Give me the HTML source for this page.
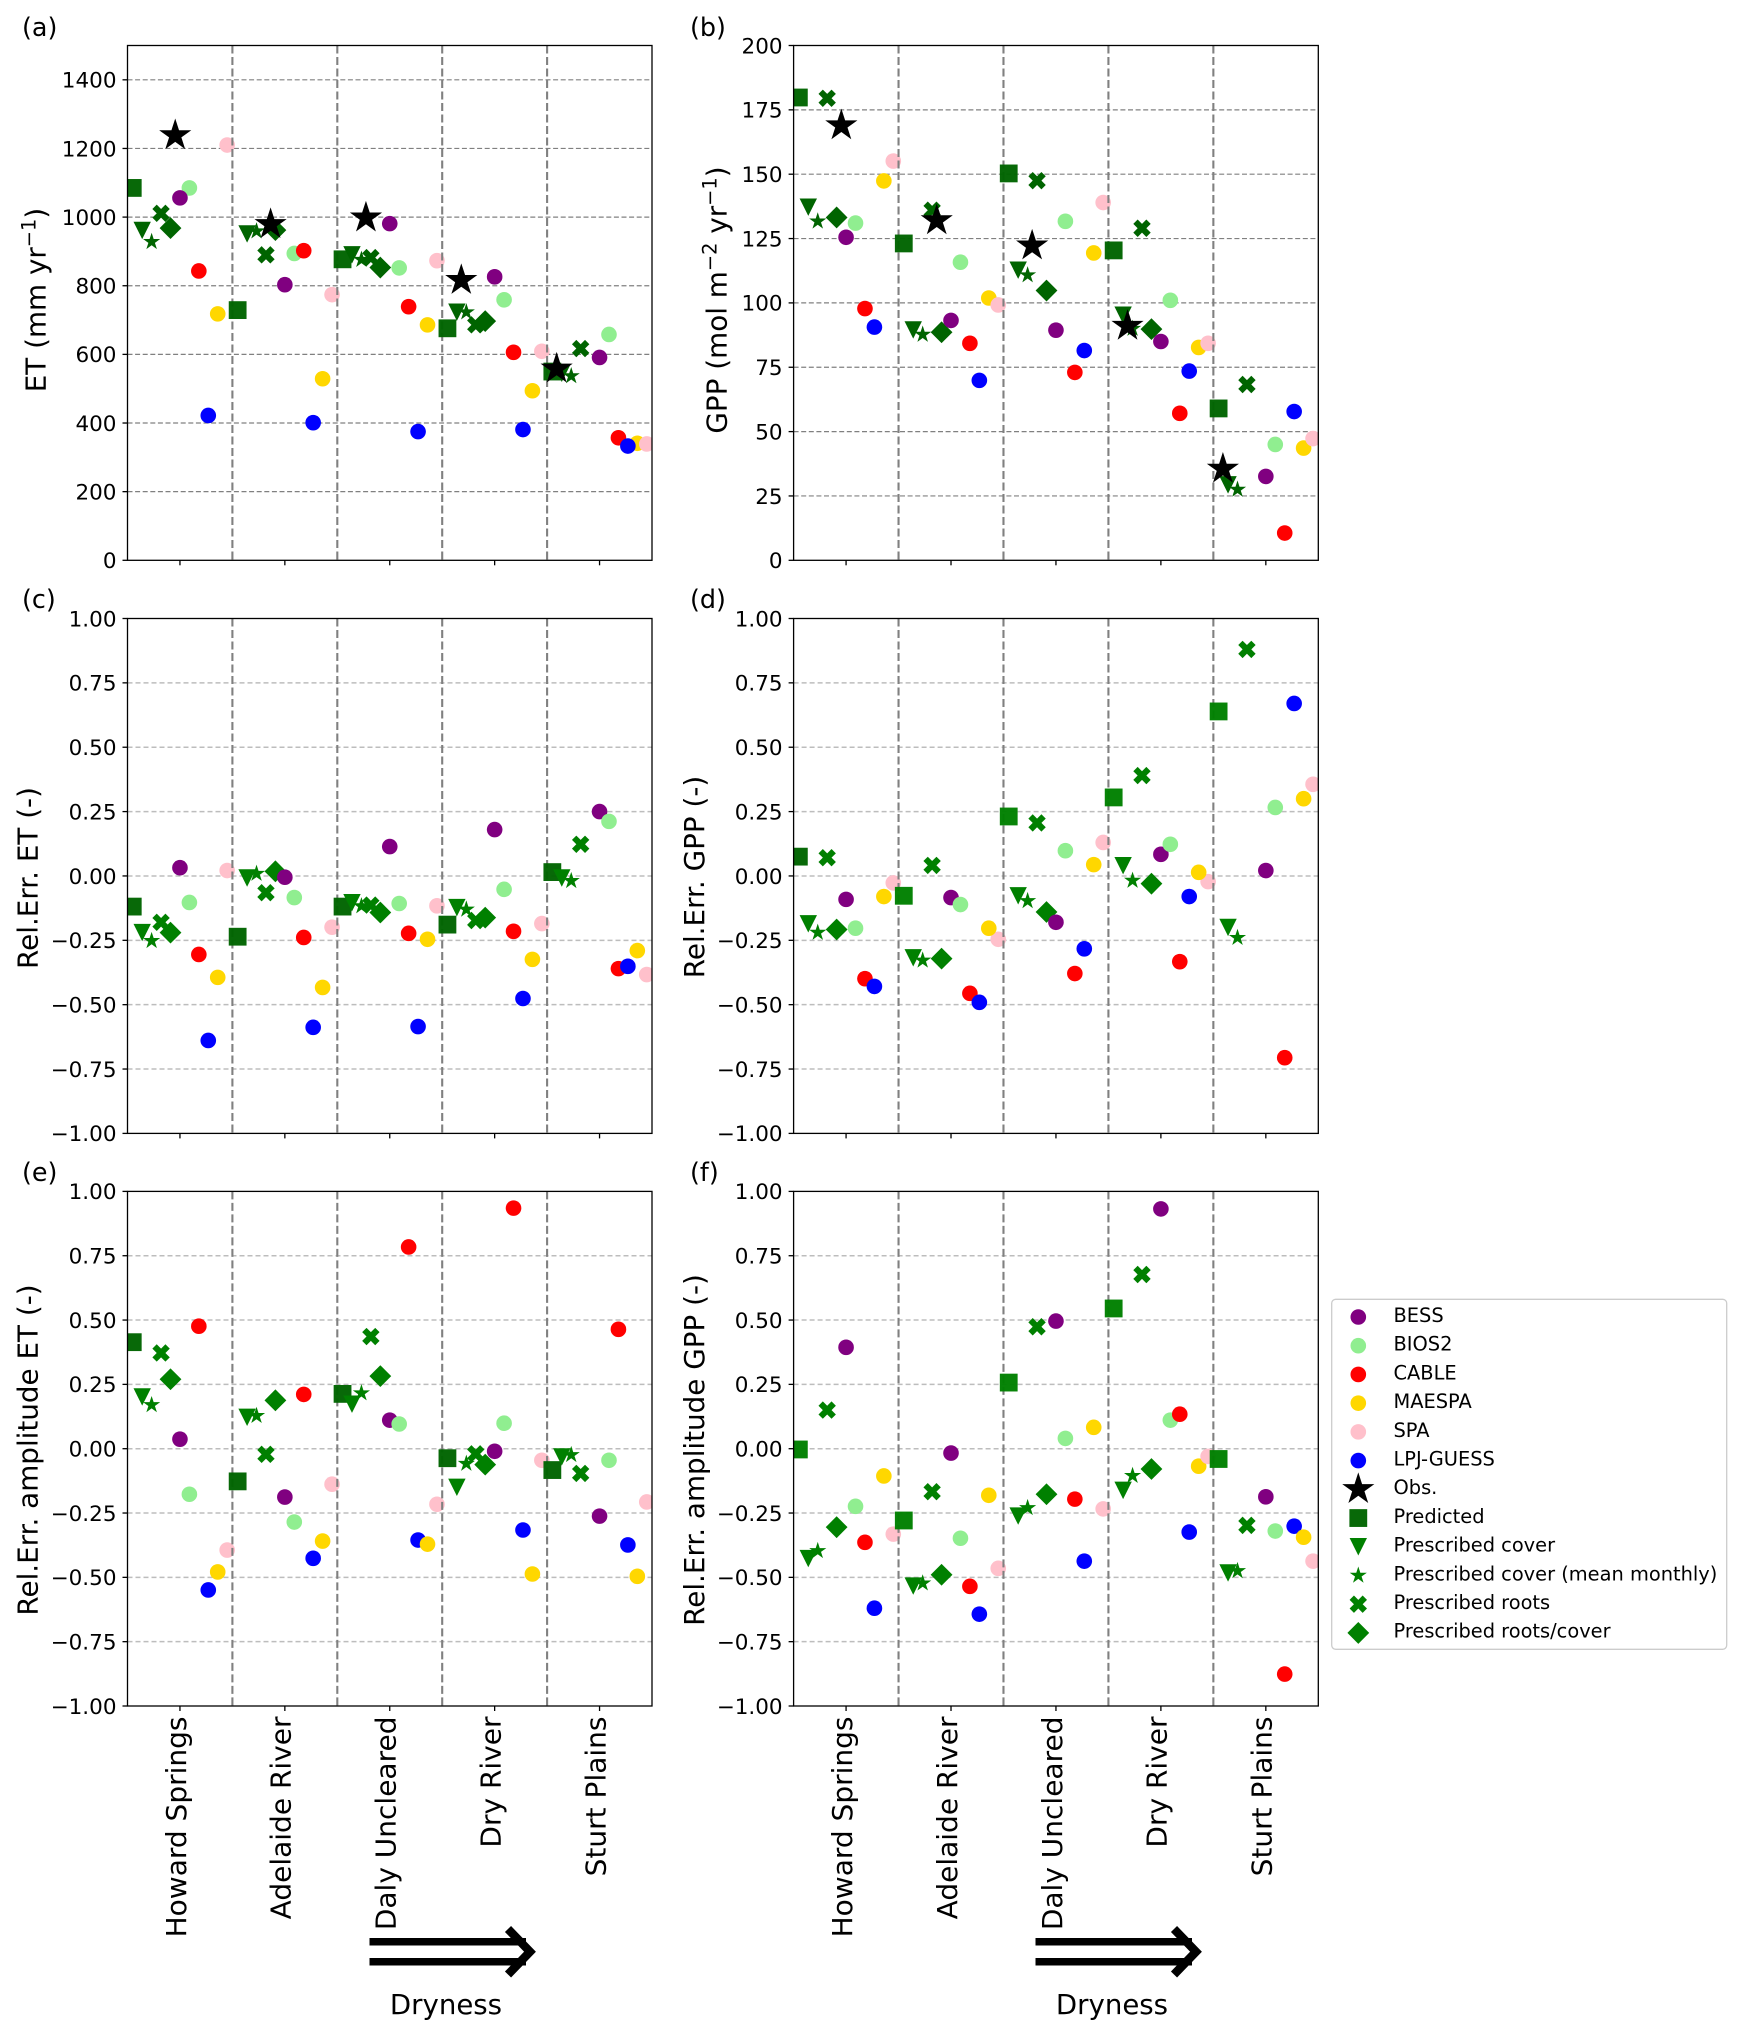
<!DOCTYPE html>
<html lang="en">
<head>
<meta charset="utf-8">
<title>ET and GPP across dryness gradient</title>
<style>
html,body{margin:0;padding:0;background:#fff;}
svg{display:block;}
text{font-family:"DejaVu Sans","Liberation Sans",sans-serif;fill:#000;}
.pl{font-size:25.4px;}
.yl{font-size:27.8px;text-anchor:middle;}
.lg{font-size:19.4px;}
</style>
</head>
<body>
<svg id="chart" xmlns="http://www.w3.org/2000/svg" width="1743" height="2036" viewBox="0 0 1743 2036">
  <rect x="0" y="0" width="1743" height="2036" fill="#fff"/>
  <defs id="clips"></defs>
  <g id="panels"></g>

  <text class="pl" x="22" y="36">(a)</text>
  <text class="pl" x="690" y="36">(b)</text>
  <text class="pl" x="22" y="608">(c)</text>
  <text class="pl" x="690" y="608">(d)</text>
  <text class="pl" x="22" y="1181">(e)</text>
  <text class="pl" x="690" y="1181">(f)</text>

  <text class="yl" transform="translate(45.5,300) rotate(-90)">ET (mm yr<tspan dy="-10" font-size="19.4">−1</tspan><tspan dy="10">)</tspan></text>
  <text class="yl" transform="translate(726.4,300) rotate(-90)">GPP (mol m<tspan dy="-10" font-size="19.4">−2</tspan><tspan dy="10"> yr</tspan><tspan dy="-10" font-size="19.4">−1</tspan><tspan dy="10">)</tspan></text>
  <text class="yl" transform="translate(37.5,878) rotate(-90)">Rel.Err. ET (-)</text>
  <text class="yl" transform="translate(704,877) rotate(-90)">Rel.Err. GPP (-)</text>
  <text class="yl" transform="translate(37.5,1450) rotate(-90)">Rel.Err. amplitude ET (-)</text>
  <text class="yl" transform="translate(704,1450) rotate(-90)">Rel.Err. amplitude GPP (-)</text>

  <g fill="none" stroke="#000">
    <path d="M369.5 1941.7H526M369.5 1961.7H526" stroke-width="7.5"/>
    <path d="M508 1929L530 1951.7L508 1974.5" stroke-width="8.5"/>
  </g>
  <text x="446" y="2014" font-size="27.6" text-anchor="middle">Dryness</text>
  <g fill="none" stroke="#000">
    <path d="M1035.5 1941.7H1192M1035.5 1961.7H1192" stroke-width="7.5"/>
    <path d="M1174 1929L1196 1951.7L1174 1974.5" stroke-width="8.5"/>
  </g>
  <text x="1112" y="2014" font-size="27.6" text-anchor="middle">Dryness</text>

  <g id="legend">
    <rect x="1331.7" y="1299.3" width="395" height="350" rx="4" ry="4" fill="#fff" stroke="#ccc" stroke-width="1.3"/>
    <g id="legend-marks"></g>
    <text class="lg" x="1393.5" y="1322">BESS</text>
    <text class="lg" x="1393.5" y="1350.7">BIOS2</text>
    <text class="lg" x="1393.5" y="1379.4">CABLE</text>
    <text class="lg" x="1393.5" y="1408.1">MAESPA</text>
    <text class="lg" x="1393.5" y="1436.8">SPA</text>
    <text class="lg" x="1393.5" y="1465.5">LPJ-GUESS</text>
    <text class="lg" x="1393.5" y="1494.2">Obs.</text>
    <text class="lg" x="1393.5" y="1522.9">Predicted</text>
    <text class="lg" x="1393.5" y="1551.6">Prescribed cover</text>
    <text class="lg" x="1393.5" y="1580.3">Prescribed cover (mean monthly)</text>
    <text class="lg" x="1393.5" y="1609">Prescribed roots</text>
    <text class="lg" x="1393.5" y="1637.7">Prescribed roots/cover</text>
  </g>
</svg>
<script>
// Categories and tick labels
const sites = ['Howard Springs', 'Adelaide River', 'Daly Uncleared', 'Dry River', 'Sturt Plains'];
const etTicks = [0, 200, 400, 600, 800, 1000, 1200, 1400];
const etTickLabels = ['0', '200', '400', '600', '800', '1000', '1200', '1400'];
const gppTicks = [0, 25, 50, 75, 100, 125, 150, 175, 200];
const gppTickLabels = ['0', '25', '50', '75', '100', '125', '150', '175', '200'];
const relTicks = [-1, -0.75, -0.5, -0.25, 0, 0.25, 0.5, 0.75, 1];
const relTickLabels = ['−1.00', '−0.75', '−0.50', '−0.25', '0.00', '0.25', '0.50', '0.75', '1.00'];

// Panel (a) ET, mm/yr
const aPredicted = [1085, 729, 877, 676, 550];
const aCover = [961, 951, 890, 723, 545];
const aMonthly = [928, 959, 876, 723, 537];
const aRoots = [1011, 890, 882, 686, 617];
const aRootsCover = [968, 962, 853, 697, null];
const aObs = [1238, 979, 998, 816, 558];
const aBESS = [1056, 803, 981, 826, 591];
const aBIOS2 = [1085, 894, 852, 759, 658];
const aCABLE = [843, 902, 739, 606, 357];
const aLPJ = [422, 401, 375, 381, 333];
const aMAESPA = [718, 529, 686, 494, 341];
const aSPA = [1210, 774, 873, 609, 339];

// Panel (b) GPP
const bPredicted = [179.8, 123.1, 150.3, 120.4, 59];
const bCover = [137.2, 89.5, 112.7, 95.2, 29.3];
const bMonthly = [131.7, 87.7, 110.8, 90, 27.5];
const bRoots = [179.5, 136, 147.5, 129, 68.3];
const bRootsCover = [133.2, 88.6, 104.8, 89.8, null];
const bObs = [168.9, 132, 122.2, 91, 35.5];
const bBESS = [125.5, 93.2, 89.4, 85, 32.6];
const bBIOS2 = [131, 115.8, 131.7, 101, 45];
const bCABLE = [97.8, 84.3, 73, 57.1, 10.6];
const bLPJ = [90.6, 69.9, 81.5, 73.5, 57.8];
const bMAESPA = [147.4, 101.9, 119.4, 82.7, 43.6];
const bSPA = [155.1, 99.2, 139, 84.3, 47.3];

// Panel (c) relative error ET
const cPredicted = [-0.119, -0.236, -0.119, -0.189, 0.015];
const cCover = [-0.22, -0.008, -0.104, -0.123, -0.008];
const cMonthly = [-0.252, 0.009, -0.117, -0.13, -0.019];
const cRoots = [-0.18, -0.065, -0.113, -0.173, 0.123];
const cRootsCover = [-0.22, 0.018, -0.142, -0.162, null];
const cBESS = [0.032, -0.005, 0.114, 0.18, 0.25];
const cBIOS2 = [-0.103, -0.084, -0.107, -0.052, 0.212];
const cCABLE = [-0.305, -0.239, -0.223, -0.215, -0.36];
const cLPJ = [-0.639, -0.588, -0.585, -0.476, -0.351];
const cMAESPA = [-0.394, -0.433, -0.246, -0.324, -0.29];
const cSPA = [0.021, -0.199, -0.116, -0.185, -0.383];

// Panel (d) relative error GPP
const dPredicted = [0.075, -0.077, 0.231, 0.305, 0.639];
const dCover = [-0.186, -0.318, -0.077, 0.04, -0.2];
const dMonthly = [-0.22, -0.328, -0.097, -0.018, -0.24];
const dRoots = [0.071, 0.041, 0.206, 0.39, 0.88];
const dRootsCover = [-0.208, -0.321, -0.14, -0.03, null];
const dBESS = [-0.091, -0.084, -0.18, 0.084, 0.021];
const dBIOS2 = [-0.203, -0.111, 0.098, 0.123, 0.266];
const dCABLE = [-0.399, -0.456, -0.379, -0.333, -0.706];
const dLPJ = [-0.429, -0.491, -0.283, -0.08, 0.67];
const dMAESPA = [-0.08, -0.203, 0.044, 0.014, 0.3];
const dSPA = [-0.027, -0.246, 0.13, -0.022, 0.356];

// Panel (e) relative error amplitude ET
const ePredicted = [0.414, -0.127, 0.213, -0.037, -0.083];
const eCover = [0.201, 0.122, 0.173, -0.15, -0.032];
const eMonthly = [0.17, 0.128, 0.216, -0.058, -0.024];
const eRoots = [0.372, -0.022, 0.436, -0.02, -0.096];
const eRootsCover = [0.27, 0.188, 0.282, -0.062, null];
const eBESS = [0.037, -0.188, 0.111, -0.01, -0.262];
const eBIOS2 = [-0.177, -0.285, 0.096, 0.099, -0.045];
const eCABLE = [0.476, 0.211, 0.784, 0.935, 0.464];
const eLPJ = [-0.549, -0.426, -0.355, -0.316, -0.374];
const eMAESPA = [-0.479, -0.359, -0.371, -0.487, -0.496];
const eSPA = [-0.394, -0.138, -0.216, -0.045, -0.207];

// Panel (f) relative error amplitude GPP
const fPredicted = [-0.003, -0.279, 0.257, 0.545, -0.04];
const fCover = [-0.427, -0.534, -0.262, -0.162, -0.483];
const fMonthly = [-0.397, -0.523, -0.23, -0.105, -0.475];
const fRoots = [0.15, -0.167, 0.474, 0.677, -0.298];
const fRootsCover = [-0.305, -0.49, -0.177, -0.079, null];
const fBESS = [0.394, -0.017, 0.496, 0.932, -0.187];
const fBIOS2 = [-0.224, -0.348, 0.04, 0.111, -0.32];
const fCABLE = [-0.364, -0.535, -0.196, 0.134, -0.876];
const fLPJ = [-0.62, -0.643, -0.437, -0.324, -0.301];
const fMAESPA = [-0.106, -0.181, 0.083, -0.068, -0.344];
const fSPA = [-0.332, -0.465, -0.234, -0.03, -0.437];

const DARK = '#006400', GREEN = '#008000';
const NS = 'http://www.w3.org/2000/svg';
const XOFF = {Predicted:-0.45, Cover:-0.36, Monthly:-0.27, Roots:-0.18, RootsCover:-0.09, Obs:-0.045,
  BESS:0, BIOS2:0.09, CABLE:0.18, LPJ:0.27, MAESPA:0.36, SPA:0.45};
const OBS_DRIFT = -0.091; // observed stars are spaced slightly closer than the sites
const MODEL_COLOR = {BESS:'#800080', BIOS2:'#90ee90', CABLE:'#ff0000', MAESPA:'#ffd700', SPA:'#ffc0cb', LPJ:'#0000ff'};
const MARK_KIND = {Predicted:'square', Cover:'tri', Monthly:'smallstar', Roots:'x', RootsCover:'diamond', Obs:'bigstar',
  BESS:'dot', BIOS2:'dot', CABLE:'dot', LPJ:'dot', MAESPA:'dot', SPA:'dot'};

const panels = [
  {id:'a', left:127.5, right:652, top:45.5, bottom:560.3, yMin:0, yMax:1500, ticks:etTicks, labels:etTickLabels,
   grid:'#808080', gridW:1.2, dash:'5 2.6', pred:[DARK,DARK,DARK,DARK,DARK], green:DARK,
   order:['BIOS2','BESS','CABLE','MAESPA','SPA','LPJ'],
   data:{Predicted:aPredicted,Cover:aCover,Monthly:aMonthly,Roots:aRoots,RootsCover:aRootsCover,Obs:aObs,BESS:aBESS,BIOS2:aBIOS2,CABLE:aCABLE,LPJ:aLPJ,MAESPA:aMAESPA,SPA:aSPA}},
  {id:'b', left:793.6, right:1318.3, top:45.5, bottom:560.3, yMin:0, yMax:200, ticks:gppTicks, labels:gppTickLabels,
   grid:'#808080', gridW:1.2, dash:'5 2.6', pred:[DARK,DARK,DARK,DARK,DARK], green:DARK,
   order:['BIOS2','BESS','CABLE','MAESPA','SPA','LPJ'],
   data:{Predicted:bPredicted,Cover:bCover,Monthly:bMonthly,Roots:bRoots,RootsCover:bRootsCover,Obs:bObs,BESS:bBESS,BIOS2:bBIOS2,CABLE:bCABLE,LPJ:bLPJ,MAESPA:bMAESPA,SPA:bSPA}},
  {id:'c', left:127.5, right:652, top:618.5, bottom:1133.4, yMin:-1, yMax:1, ticks:relTicks, labels:relTickLabels,
   grid:'#bdbdbd', gridW:1.5, dash:'5 3', pred:[DARK,DARK,DARK,DARK,DARK], green:GREEN,
   order:['BESS','BIOS2','CABLE','SPA','MAESPA','LPJ'],
   data:{Predicted:cPredicted,Cover:cCover,Monthly:cMonthly,Roots:cRoots,RootsCover:cRootsCover,BESS:cBESS,BIOS2:cBIOS2,CABLE:cCABLE,LPJ:cLPJ,MAESPA:cMAESPA,SPA:cSPA}},
  {id:'d', left:793.6, right:1318.3, top:618.5, bottom:1133.4, yMin:-1, yMax:1, ticks:relTicks, labels:relTickLabels,
   grid:'#bdbdbd', gridW:1.5, dash:'5 3', pred:[DARK,GREEN,GREEN,GREEN,GREEN], green:GREEN,
   order:['BESS','BIOS2','CABLE','SPA','MAESPA','LPJ'],
   data:{Predicted:dPredicted,Cover:dCover,Monthly:dMonthly,Roots:dRoots,RootsCover:dRootsCover,BESS:dBESS,BIOS2:dBIOS2,CABLE:dCABLE,LPJ:dLPJ,MAESPA:dMAESPA,SPA:dSPA}},
  {id:'e', left:127.5, right:652, top:1191.4, bottom:1706, yMin:-1, yMax:1, ticks:relTicks, labels:relTickLabels,
   grid:'#bdbdbd', gridW:1.5, dash:'5 3', pred:[DARK,DARK,DARK,DARK,DARK], green:GREEN,
   order:['BESS','BIOS2','CABLE','LPJ','MAESPA','SPA'],
   data:{Predicted:ePredicted,Cover:eCover,Monthly:eMonthly,Roots:eRoots,RootsCover:eRootsCover,BESS:eBESS,BIOS2:eBIOS2,CABLE:eCABLE,LPJ:eLPJ,MAESPA:eMAESPA,SPA:eSPA}},
  {id:'f', left:793.6, right:1318.3, top:1191.4, bottom:1706, yMin:-1, yMax:1, ticks:relTicks, labels:relTickLabels,
   grid:'#bdbdbd', gridW:1.5, dash:'5 3', pred:[GREEN,GREEN,GREEN,GREEN,GREEN], green:GREEN,
   order:['BESS','BIOS2','CABLE','LPJ','MAESPA','SPA'],
   data:{Predicted:fPredicted,Cover:fCover,Monthly:fMonthly,Roots:fRoots,RootsCover:fRootsCover,BESS:fBESS,BIOS2:fBIOS2,CABLE:fCABLE,LPJ:fLPJ,MAESPA:fMAESPA,SPA:fSPA}}
];

function xScale(p, v) { return p.left + (v + 0.5) / 5 * (p.right - p.left); }
function yScale(p, v) { return p.bottom - (v - p.yMin) / (p.yMax - p.yMin) * (p.bottom - p.top); }

function mk(tag, attrs, parent) {
  const el = document.createElementNS(NS, tag);
  for (const k in attrs) el.setAttribute(k, attrs[k]);
  parent.appendChild(el);
  return el;
}

function starPath(cx, cy, R) {
  let d = '';
  for (let i = 0; i < 10; i++) {
    const r = i % 2 ? R * 0.381966 : R;
    const a = -Math.PI / 2 + i * Math.PI / 5;
    d += (i ? 'L' : 'M') + (cx + r * Math.cos(a)).toFixed(2) + ' ' + (cy + r * Math.sin(a)).toFixed(2);
  }
  return d + 'Z';
}
function polyPath(cx, cy, h, pts) {
  return pts.map((q, i) => (i ? 'L' : 'M') + (cx + q[0] * h).toFixed(2) + ' ' + (cy + q[1] * h).toFixed(2)).join('') + 'Z';
}
const X_SHAPE = [[-.5,-1],[0,-.5],[.5,-1],[1,-.5],[.5,0],[1,.5],[.5,1],[0,.5],[-.5,1],[-1,.5],[-.5,0],[-1,-.5]];
function drawMark(kind, cx, cy, fill, parent, label, clip) {
  let el;
  if (kind === 'dot') {
    el = mk('circle', {cx: cx, cy: cy, r: 7.8, fill: fill}, parent);
  } else if (kind === 'square') {
    el = mk('rect', {x: cx - 8.9, y: cy - 8.9, width: 17.8, height: 17.8, fill: fill, 'fill-opacity': 0.97}, parent);
  } else {
    let d = '';
    if (kind === 'tri') d = polyPath(cx, cy, 8.7, [[-1,-1],[1,-1],[0,1]]);
    if (kind === 'smallstar') d = starPath(cx, cy, 9);
    if (kind === 'bigstar') d = starPath(cx, cy, 16.9);
    if (kind === 'x') d = polyPath(cx, cy, 8.7, X_SHAPE);
    if (kind === 'diamond') d = polyPath(cx, cy, 10.9, [[0,-1],[1,0],[0,1],[-1,0]]);
    el = mk('path', {d: d, fill: fill}, parent);
  }
  if (clip) el.setAttribute('clip-path', clip);
  
  
  return el;
}

const root = document.getElementById('panels');
const defs = document.getElementById('clips');
const prescribed = ['Predicted', 'Cover', 'Monthly', 'Roots', 'RootsCover', 'Obs'];

panels.forEach(function (p) {
  const g = mk('g', {}, root);
  
  

  const cp = mk('clipPath', {id: 'clip-' + p.id}, defs);
  mk('rect', {x: p.left, y: p.top, width: p.right - p.left, height: p.bottom - p.top}, cp);
  const clip = 'url(#clip-' + p.id + ')';

  p.ticks.forEach(function (t, i) {
    const y = yScale(p, t);
    if (t !== p.yMin && t !== p.yMax) {
      const gl = mk('line', {x1: p.left, x2: p.right, y1: y, y2: y, stroke: p.grid, 'stroke-width': p.gridW, 'stroke-dasharray': p.dash}, g);
      
      
    }
    const tk = mk('line', {x1: p.left - 5, x2: p.left, y1: y, y2: y, stroke: '#000', 'stroke-width': 1.3}, g);
    
    
    const tl = mk('text', {x: p.left - 11, y: y + 7.8, 'font-size': 21.5, 'text-anchor': 'end'}, g);
    tl.textContent = p.labels[i];
    
    
  });

  sites.forEach(function (site, s) {
    prescribed.concat(p.order).forEach(function (key) {
      const series = p.data[key];
      if (!series || series[s] === null) return;
      let fill = MODEL_COLOR[key];
      if (key === 'Obs') fill = '#000';
      else if (key === 'Predicted') fill = p.pred[s];
      else if (!fill) fill = p.green;
      const xv = s + XOFF[key] + (key === 'Obs' ? OBS_DRIFT * s : 0);
      drawMark(MARK_KIND[key], xScale(p, xv), yScale(p, series[s]), fill, g,
        'marker-' + key.toLowerCase() + '-' + p.id + '-' + s, clip);
    });
    if (s < sites.length - 1) {
      const x = xScale(p, s + 0.5);
      const v = mk('line', {x1: x, x2: x, y1: p.top, y2: p.bottom, stroke: '#808080', 'stroke-width': 2.1, 'stroke-dasharray': '8 3.5'}, g);
      
      
    }
    const tx = xScale(p, s);
    const xt = mk('line', {x1: tx, x2: tx, y1: p.bottom, y2: p.bottom + 5, stroke: '#000', 'stroke-width': 1.3}, g);
    
    
    if (p.id === 'e' || p.id === 'f') {
      const lab = mk('text', {'font-size': 28, 'text-anchor': 'end', transform: 'translate(' + (tx + 5.8) + ',' + (p.bottom + 10.5) + ') rotate(-90)'}, g);
      lab.textContent = site;
      
      
    }
  });

  const frame = mk('rect', {x: p.left, y: p.top, width: p.right - p.left, height: p.bottom - p.top, fill: 'none', stroke: '#000', 'stroke-width': 1.3}, g);
  
  
});

const legendKeys = ['BESS', 'BIOS2', 'CABLE', 'MAESPA', 'SPA', 'LPJ', 'Obs', 'Predicted', 'Cover', 'Monthly', 'Roots', 'RootsCover'];
const legendMarks = document.getElementById('legend-marks');
legendKeys.forEach(function (key, i) {
  let fill = MODEL_COLOR[key] || GREEN;
  if (key === 'Obs') fill = '#000';
  if (key === 'Predicted') fill = DARK;
  drawMark(MARK_KIND[key], 1358.3, 1317 + i * 28.72, fill, legendMarks, 'legend-marker-' + key.toLowerCase(), null);
});
</script>
</body>
</html>
